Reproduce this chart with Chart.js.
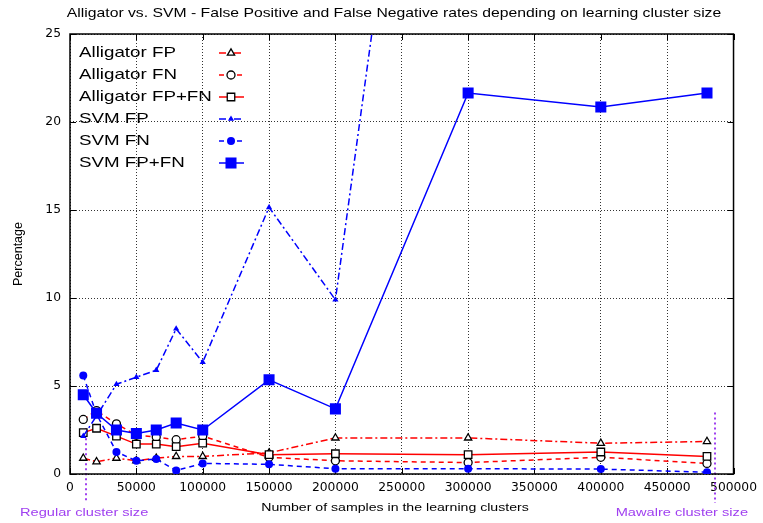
<!DOCTYPE html>
<html>
<head>
<meta charset="utf-8">
<script src="https://cdn.jsdelivr.net/npm/chart.js@4/dist/chart.umd.min.js"></script>
<style>
  body { margin: 0; background: #fff; }
  canvas { display: block; }
</style>
</head>
<body>
<canvas id="chart" width="763" height="523"></canvas>
<script>
const samples = [10000, 20000, 35000, 50000, 65000, 80000, 100000, 150000, 200000, 300000, 400000, 480000];
const alligatorFP = [0.9, 0.7, 0.9, 0.75, 0.9, 1.0, 1.0, 1.2, 2.05, 2.05, 1.75, 1.85];
const alligatorFN = [3.1, 3.6, 2.85, 2.2, 2.1, 1.95, 2.15, 0.95, 0.75, 0.65, 0.95, 0.6];
const alligatorFPFN = [2.35, 2.6, 2.15, 1.7, 1.7, 1.55, 1.75, 1.1, 1.15, 1.1, 1.25, 1.0];
const svmFP = [2.15, 3.3, 5.1, 5.5, 5.9, 8.25, 6.35, 15.15, 9.9, 65, 62, 60];
const svmFN = [5.6, 3.4, 1.25, 0.75, 0.85, 0.2, 0.6, 0.55, 0.3, 0.3, 0.28, 0.1];
const svmFPFN = [4.5, 3.45, 2.5, 2.3, 2.5, 2.9, 2.5, 5.35, 3.7, 21.65, 20.85, 21.65];

const seriesLabels = ["Alligator FP", "Alligator FN", "Alligator FP+FN", "SVM FP", "SVM FN", "SVM FP+FN"];
const xTicks = [0, 50000, 100000, 150000, 200000, 250000, 300000, 350000, 400000, 450000, 500000];
const yTicks = [0, 5, 10, 15, 20, 25];

// cluster size markers (x position, y where the dotted line starts)
const regularCluster = { x: 12000, from: 2.6, label: "Regular cluster size" };
const mawalreCluster = { x: 486000, from: 3.5, label: "Mawalre cluster size" };

const titleText = "Alligator vs. SVM - False Positive and False Negative rates depending on learning cluster size";
const xTitle = "Number of samples in the learning clusters";
const yTitle = "Percentage";

const RED = "#ff0000";
const BLUE = "#0000ff";
const PURPLE = "#a040f0";
const SX = 1.25; // the original text is horizontally stretched
const FONT = '"Liberation Sans", Arial, sans-serif';

function pts(values) {
  return values.map((v, i) => ({ x: samples[i], y: v }));
}

function stretchText(ctx, text, x, y, size, align, color) {
  ctx.save();
  ctx.font = size + "px " + FONT;
  ctx.fillStyle = color;
  ctx.textBaseline = "middle";
  ctx.textAlign = "left";
  const w = ctx.measureText(text).width * SX;
  const left = align === "center" ? x - w / 2 : align === "right" ? x - w : x;
  ctx.translate(left, y);
  ctx.scale(SX, 1);
  ctx.fillText(text, 0, 0);
  ctx.restore();
}

function marker(ctx, style, r, x, y, fill, stroke, bw) {
  ctx.save();
  ctx.beginPath();
  if (style === "triangle") {
    let a = 0;
    ctx.moveTo(x + Math.sin(a) * r, y - Math.cos(a) * r);
    a += Math.PI * 2 / 3;
    ctx.lineTo(x + Math.sin(a) * r, y - Math.cos(a) * r);
    a += Math.PI * 2 / 3;
    ctx.lineTo(x + Math.sin(a) * r, y - Math.cos(a) * r);
    ctx.closePath();
  } else if (style === "rect") {
    const s = Math.SQRT1_2 * r;
    ctx.rect(x - s, y - s, 2 * s, 2 * s);
  } else {
    ctx.arc(x, y, r, 0, Math.PI * 2);
  }
  ctx.fillStyle = fill;
  ctx.fill();
  if (bw > 0) {
    ctx.lineWidth = bw;
    ctx.strokeStyle = stroke;
    ctx.stroke();
  }
  ctx.restore();
}

const frame = {
  id: "frame",
  beforeDatasetsDraw(chart) {
    const { ctx, chartArea: a, scales } = chart;
    ctx.save();
    // cluster size lines
    ctx.strokeStyle = PURPLE;
    ctx.lineWidth = 2;
    ctx.setLineDash([2, 3]);
    [regularCluster, mawalreCluster].forEach((c) => {
      const px = Math.round(scales.x.getPixelForValue(c.x));
      ctx.beginPath();
      ctx.moveTo(px, scales.y.getPixelForValue(c.from));
      ctx.lineTo(px, a.bottom + 29);
      ctx.stroke();
    });
    ctx.setLineDash([]);
    // border and inner ticks
    ctx.strokeStyle = "#000";
    ctx.lineWidth = 1;
    ctx.beginPath();
    xTicks.forEach((v) => {
      const px = Math.round(scales.x.getPixelForValue(v)) + 0.5;
      ctx.moveTo(px, a.bottom); ctx.lineTo(px, a.bottom - 6);
      ctx.moveTo(px, a.top); ctx.lineTo(px, a.top + 6);
    });
    yTicks.forEach((v) => {
      const py = Math.round(scales.y.getPixelForValue(v)) + 0.5;
      ctx.moveTo(a.left, py); ctx.lineTo(a.left + 6, py);
      ctx.moveTo(a.right, py); ctx.lineTo(a.right - 6, py);
    });
    ctx.stroke();
    ctx.lineWidth = 1.5;
    ctx.strokeRect(a.left, a.top, a.right - a.left, a.bottom - a.top);
    ctx.restore();
  },
  afterDraw(chart) {
    const { ctx } = chart;
    stretchText(ctx, titleText, 394, 14, 12.6, "center", "#000");
    stretchText(ctx, xTitle, 395, 508, 11.3, "center", "#000");
    stretchText(ctx, regularCluster.label, 20, 513, 11.7, "left", PURPLE);
    stretchText(ctx, mawalreCluster.label, 748, 513, 11.7, "right", PURPLE);
    // legend
    chart.data.datasets.forEach((ds, i) => {
      const y = 53 + i * 22;
      stretchText(ctx, ds.label, 79, y, 15, "left", "#000");
      ctx.save();
      ctx.strokeStyle = ds.borderColor;
      ctx.lineWidth = ds.borderWidth;
      ctx.setLineDash(ds.borderDash || []);
      ctx.beginPath();
      ctx.moveTo(219, y);
      ctx.lineTo(244, y);
      ctx.stroke();
      ctx.restore();
      marker(ctx, ds.pointStyle, ds.pointRadius, 231, y, ds.pointBackgroundColor, ds.pointBorderColor, ds.pointBorderWidth);
    });
  }
};

function series(label, values, color, dash, style, radius, hollow, order) {
  return {
    label: label,
    data: pts(values),
    borderColor: color,
    borderWidth: 1.5,
    borderDash: dash,
    pointStyle: style,
    pointRadius: radius,
    pointHoverRadius: radius,
    pointBackgroundColor: hollow ? "#fff" : color,
    pointBorderColor: hollow ? "#000" : color,
    pointBorderWidth: hollow ? 1.3 : 0,
    fill: false,
    tension: 0,
    order: order
  };
}

new Chart(document.getElementById("chart"), {
  type: "line",
  data: {
    datasets: [
      series(seriesLabels[0], alligatorFP, RED, [7, 3, 2, 3], "triangle", 4.2, true, 6),
      series(seriesLabels[1], alligatorFN, RED, [5, 4], "circle", 4, true, 5),
      series(seriesLabels[2], alligatorFPFN, RED, [], "rect", 5.3, true, 4),
      series(seriesLabels[3], svmFP, BLUE, [7, 3, 2, 3], "triangle", 3.6, false, 3),
      series(seriesLabels[4], svmFN, BLUE, [5, 4], "circle", 4, false, 2),
      series(seriesLabels[5], svmFPFN, BLUE, [], "rect", 7.8, false, 1)
    ]
  },
  options: {
    responsive: false,
    animation: false,
    events: [],
    layout: { padding: { top: 34, right: 26, left: 0, bottom: 0 } },
    plugins: {
      legend: { display: false },
      tooltip: { enabled: false },
      title: { display: false }
    },
    scales: {
      x: {
        type: "linear",
        min: 0,
        max: 500000,
        afterBuildTicks: (s) => { s.ticks = xTicks.map((v) => ({ value: v })); },
        afterFit: (s) => { s.height = 49; },
        ticks: {
          callback: (v) => String(v),
          color: "#000",
          font: { family: "DejaVu Sans", size: 12.3 },
          padding: 6,
          maxRotation: 0,
          autoSkip: false
        },
        grid: { color: "#333", lineWidth: 1, drawTicks: false },
        border: { display: false, dash: [1, 2] }
      },
      y: {
        min: 0,
        max: 25,
        afterBuildTicks: (s) => { s.ticks = yTicks.map((v) => ({ value: v })); },
        afterFit: (s) => { s.width = 70; },
        ticks: {
          color: "#000",
          font: { family: "DejaVu Sans", size: 12.3 },
          padding: 9
        },
        title: {
          display: true,
          text: yTitle,
          color: "#000",
          font: { family: FONT, size: 12.5 },
          padding: { top: 11, bottom: 0 }
        },
        grid: { color: "#333", lineWidth: 1, drawTicks: false },
        border: { display: false, dash: [1, 2] }
      }
    }
  },
  plugins: [frame]
});
</script>
</body>
</html>
